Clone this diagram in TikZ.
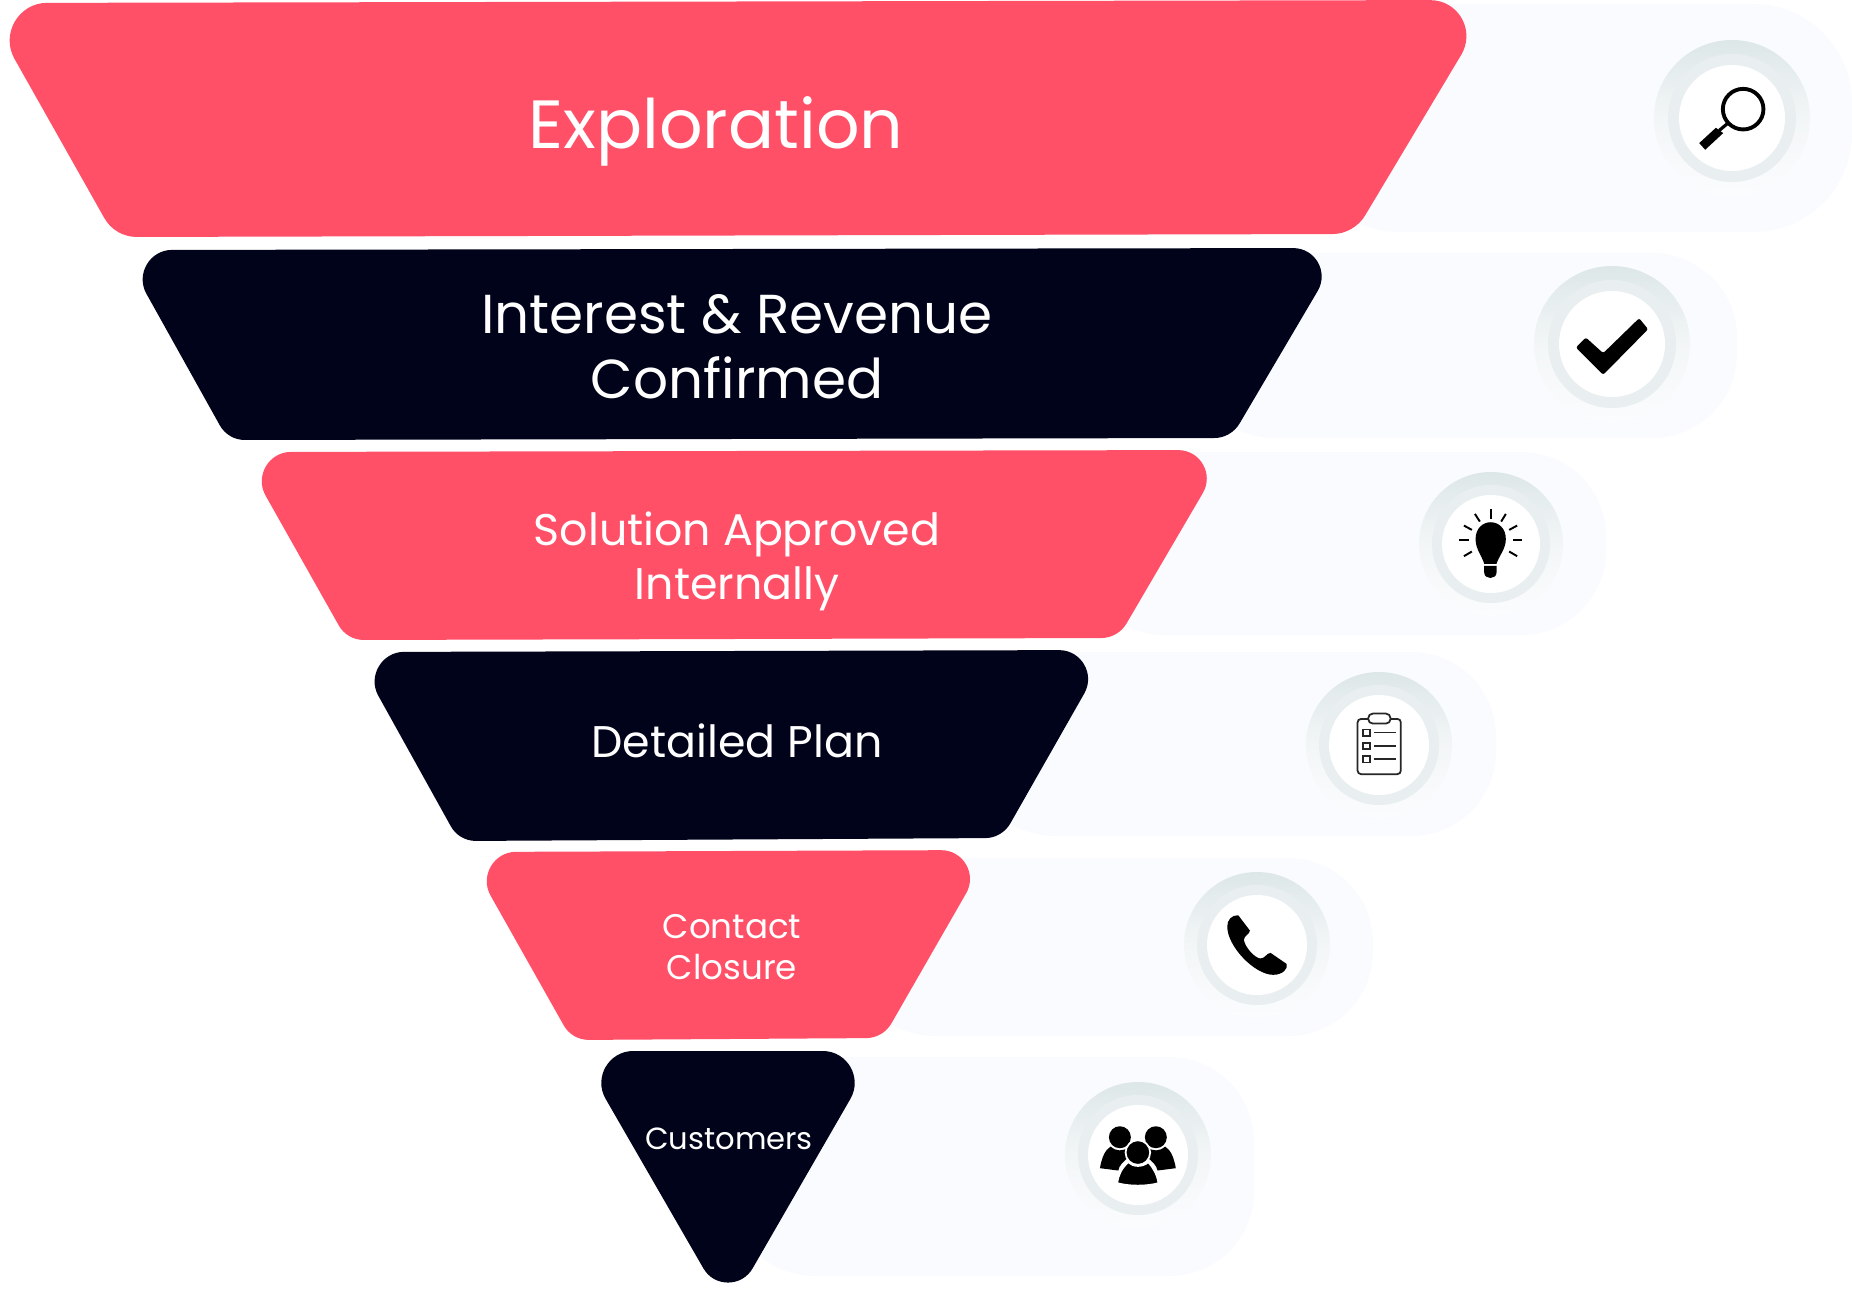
\documentclass[tikz,border=0pt]{standalone}
\usepackage{fontspec}
\usepackage{xcolor}
\usetikzlibrary{calc}
\setmainfont{Poppins}
\definecolor{funnelred}{HTML}{FF5068}
\definecolor{funneldark}{HTML}{000319}
\definecolor{pillback}{HTML}{FAFBFF}
\definecolor{ringtop}{HTML}{DDE7E8}
\definecolor{ringmid}{HTML}{F3F6F7}
\definecolor{ringlow}{HTML}{FBFCFD}
\definecolor{ringband}{HTML}{E9EFF0}
\newcommand{\cornerto}[5]{-- ($(#2)!#4!(#1)$) .. controls ($(#2)!#5*#4!(#1)$) and ($(#2)!#5*#4!(#3)$) .. ($(#2)!#4!(#3)$)}
\newcommand{\funnelpath}[6]{($(#1)!0.5!(#2)$) \cornerto{#1}{#2}{#3}{#5}{0.556} \cornerto{#2}{#3}{#4}{#6}{0.381} \cornerto{#3}{#4}{#1}{#6}{0.381} \cornerto{#4}{#1}{#2}{#5}{0.556} -- cycle}
\begin{document}
\begin{tikzpicture}[x=0.01cm,y=-0.01cm,
    redfunnel/.style={fill=funnelred},
    darkfunnel/.style={fill=funneldark},
    pillshape/.style={fill=pillback},
    outerring/.style={top color=ringtop,bottom color=ringlow,middle color=ringmid},
    midring/.style={fill=ringband},
    innerring/.style={fill=white},
    funnellabel/.style={text=white,align=center,inner sep=0pt}]
    \useasboundingbox (0,0) rectangle (1852,1288);
    \fill[pillshape] (1300,4) [rounded corners=28pt] -- (1852,4) -- (1852,232) -- (1300,232) [sharp corners] -- cycle;
    \fill[pillshape] (1190,253) [rounded corners=24pt] -- (1737,253) -- (1737,438) -- (1190,438) [sharp corners] -- cycle;
    \fill[pillshape] (1080,452) [rounded corners=24pt] -- (1606,452) -- (1606,635) -- (1080,635) [sharp corners] -- cycle;
    \fill[pillshape] (970,652) [rounded corners=24pt] -- (1496,652) -- (1496,836) -- (970,836) [sharp corners] -- cycle;
    \fill[pillshape] (850,858) [rounded corners=24pt] -- (1373,858) -- (1373,1036) -- (850,1036) [sharp corners] -- cycle;
    \fill[pillshape] (730,1057) [rounded corners=24pt] -- (1254,1057) -- (1254,1276) -- (730,1276) [sharp corners] -- cycle;
    \fill[redfunnel] \funnelpath{-17,3}{1494,0}{1354,234}{115,237}{18.2pt}{6.2pt};
    \fill[darkfunnel] \funnelpath{122,250}{1343,248}{1231,438}{228,440}{14.2pt}{4.8pt};
    \fill[redfunnel] \funnelpath{241,452}{1228,450}{1118,638}{347,640}{14.2pt}{4.8pt};
    \fill[darkfunnel] \funnelpath{354,652}{1109,650}{1002,838}{459,841}{14.2pt}{4.8pt};
    \fill[redfunnel] \funnelpath{466,852}{991,850}{883,1038}{572,1040}{14.2pt}{4.8pt};
    \fill[darkfunnel] (728,1051) \cornerto{728,1051}{878,1051}{728,1311}{15.7pt}{0.556} \cornerto{878,1051}{728,1311}{578,1051}{14pt}{0.556} \cornerto{728,1311}{578,1051}{878,1051}{15.7pt}{0.556} -- cycle;
    \shade[outerring] (1732,118) circle (78);
    \fill[midring] (1732,118) circle (64);
    \fill[innerring] (1732,118) circle (53);
    \shade[outerring] (1612,344) circle (78);
    \fill[midring] (1612,344) circle (64);
    \fill[innerring] (1612,344) circle (53);
    \shade[outerring] (1491,544) circle (72);
    \fill[midring] (1491,544) circle (59);
    \fill[innerring] (1491,544) circle (49);
    \shade[outerring] (1379,745) circle (73);
    \fill[midring] (1379,745) circle (60);
    \fill[innerring] (1379,745) circle (50);
    \shade[outerring] (1257,945) circle (73);
    \fill[midring] (1257,945) circle (60);
    \fill[innerring] (1257,945) circle (50);
    \shade[outerring] (1138,1155) circle (73);
    \fill[midring] (1138,1155) circle (60);
    \fill[innerring] (1138,1155) circle (50);
    \begin{scope}[shift={(1620,0)},x=0.00333cm,y=-0.00333cm]
        \draw[black, line width=1.1pt] (370,328) circle (61);
        \draw[black, line width=0.9pt] (322,372) -- (298,392);
        \fill[black] (238,430) -- (288,384) -- (310,400) -- (256,450) -- cycle;
    \end{scope}
    \begin{scope}[shift={(1500,250)},x=0.00333cm,y=-0.00333cm]
        \fill[black, rounded corners=0.6pt] (228,293) -- (258,263) -- (310,310) -- (418,205) -- (445,238) -- (310,375) -- cycle;
    \end{scope}
    \begin{scope}[shift={(1400,460)},x=0.00333cm,y=-0.00333cm]
        \fill[black] (253,312) .. controls (247,290) and (227,268) .. (227,238) .. controls (227,170) and (318,170) .. (318,238) .. controls (318,268) and (296,290) .. (290,312) -- cycle;
        \fill[black] (253,318) -- (290,318) -- (290,338) .. controls (290,360) and (253,360) .. (253,338) -- cycle;
        \draw[black, line width=0.55pt] (272,148) -- (272,178);
        \draw[black, line width=0.55pt] (225,162) -- (240,185);
        \draw[black, line width=0.55pt] (192,197) -- (216,210);
        \draw[black, line width=0.55pt] (178,241) -- (206,241);
        \draw[black, line width=0.55pt] (192,289) -- (216,275);
        \draw[black, line width=0.55pt] (318,162) -- (304,185);
        \draw[black, line width=0.55pt] (352,197) -- (328,210);
        \draw[black, line width=0.55pt] (366,241) -- (338,241);
        \draw[black, line width=0.55pt] (352,289) -- (328,275);
    \end{scope}
    \begin{scope}[shift={(1290,660)},x=0.00333cm,y=-0.00333cm]
        \draw[black!85, line width=0.5pt, rounded corners=1pt] (203,177) rectangle (333,343);
        \draw[black!85, fill=white, line width=0.5pt, rounded corners=1.3pt] (235,161) rectangle (302,191);
        \draw[black!85, line width=0.5pt] (220,209) rectangle (240,229);
        \draw[black!85, line width=0.5pt] (220,249) rectangle (240,268);
        \draw[black!85, line width=0.5pt] (220,288) rectangle (240,308);
        \draw[black!85, line width=0.5pt] (253,218) -- (318,218);
        \draw[black!85, line width=0.5pt] (253,258) -- (318,258);
        \draw[black!85, line width=0.5pt] (253,298) -- (318,298);
    \end{scope}
    \begin{scope}[shift={(1170,860)},x=0.00333cm,y=-0.00333cm]
        \fill[black] (172,200) .. controls (172,180) and (185,165) .. (205,166) -- (240,212) .. controls (240,222) and (222,228) .. (222,240) .. controls (225,262) and (255,295) .. (272,296) .. controls (285,296) and (290,280) .. (302,279) -- (350,312) .. controls (356,325) and (340,345) .. (310,345) .. controls (255,345) and (172,260) .. (172,200) -- cycle;
    \end{scope}
    \begin{scope}[shift={(1050,1070)},x=0.00333cm,y=-0.00333cm]
        \fill[black] (150,295) .. controls (155,265) and (165,240) .. (182,230) .. controls (200,245) and (215,245) .. (240,232) .. controls (260,260) and (210,270) .. (205,302) -- cycle;
        \fill[black] (378,295) .. controls (373,265) and (363,240) .. (346,230) .. controls (328,245) and (313,245) .. (288,232) .. controls (268,260) and (318,270) .. (323,302) -- cycle;
        \fill[black] (210,202) circle (33);
        \fill[black] (318,202) circle (33);
        \draw[black, fill=black, draw=white, line width=0.5pt] (202,340) .. controls (205,315) and (215,295) .. (235,277) .. controls (250,292) and (278,292) .. (295,277) .. controls (312,295) and (322,315) .. (326,340) .. controls (290,350) and (238,350) .. (202,340) -- cycle;
        \draw[black, fill=black, draw=white, line width=0.5pt] (264,248) circle (37);
    \end{scope}
    \node[funnellabel, font=\fontsize{19.4}{21}\selectfont] (exploration) at (716,131) {Exploration};
    \node[funnellabel, font=\fontsize{15.6}{18.5}\selectfont] (interest) at (737,347) {Interest \& Revenue\\Confirmed};
    \node[funnellabel, font=\fontsize{12.6}{15.4}\selectfont] (solution) at (737,561) {Solution Approved\\Internally};
    \node[funnellabel, font=\fontsize{12.6}{14}\selectfont] (plan) at (737,741) {Detailed Plan};
    \node[funnellabel, font=\fontsize{9.7}{11.7}\selectfont] (closure) at (732,947) {Contact\\Closure};
    \node[funnellabel, font=\fontsize{8.7}{10}\selectfont] (customers) at (729,1139) {Customers};
\end{tikzpicture}
\end{document}
